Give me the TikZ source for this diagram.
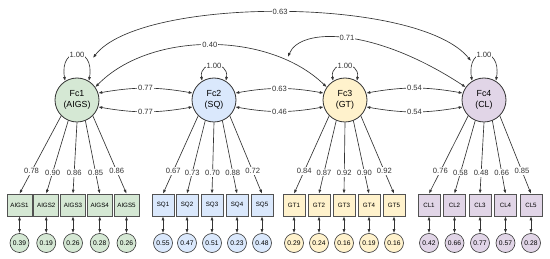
\documentclass[tikz,border=0pt]{standalone}
\usepackage{fontspec}
\setmainfont{Liberation Sans}
\usepackage{xcolor}
\usepackage{tikz}
\usetikzlibrary{arrows.meta}

\definecolor{lnc}{HTML}{333333}
\definecolor{gfill}{HTML}{D5E8D4}
\definecolor{bfill}{HTML}{DAE8FC}
\definecolor{yfill}{HTML}{FFF2CC}
\definecolor{pfill}{HTML}{E1D5E7}

\begin{document}
\begin{tikzpicture}[
  x=1pt, y=1pt,
  font=\fontsize{7.6}{9}\selectfont,
  fac/.style  = {circle, draw=lnc, line width=0.8pt, minimum size=44pt, inner sep=0pt,
                 align=center, font=\fontsize{8.8}{10.5}\selectfont},
  ind/.style  = {draw=lnc!85, line width=0.6pt, minimum width=22pt, minimum height=22pt,
                 inner sep=0.5pt, font=\fontsize{6.2}{7}\selectfont},
  err/.style  = {circle, draw=lnc, line width=0.6pt, minimum size=19pt, inner sep=0pt,
                 font=\fontsize{6.7}{7}\selectfont},
  lab/.style  = {fill=white, inner sep=1pt},
  arr/.style  = {-{Latex[length=4pt, width=3pt]}, lnc, line width=0.65pt},
  barr/.style = {{Latex[length=4pt, width=3pt]}-{Latex[length=4pt, width=3pt]}, lnc, line width=0.65pt},
]
\useasboundingbox (0,0) rectangle (550,-259);

%% ── Factors ────────────────────────────────────────────────────────────────
\node[fac, fill=gfill] (Fc1) at (77,-100)  {Fc1\\(AIGS)};
\node[fac, fill=bfill] (Fc2) at (214,-100) {Fc2\\(SQ)};
\node[fac, fill=yfill] (Fc3) at (345,-100) {Fc3\\(GT)};
\node[fac, fill=pfill] (Fc4) at (484,-100) {Fc4\\(CL)};

%% ── Variances ──────────────────────────────────────────────────────────────
\draw[barr] (Fc1.122) .. controls +(100:36) and +(80:36) .. (Fc1.58) node[lab, pos=0.5] {1.00};
\draw[barr] (Fc2.122) .. controls +(100:21) and +(80:21) .. (Fc2.58) node[lab, pos=0.5] {1.00};
\draw[barr] (Fc3.122) .. controls +(100:21) and +(80:21) .. (Fc3.58) node[lab, pos=0.5] {1.00};
\draw[barr] (Fc4.122) .. controls +(100:36) and +(80:36) .. (Fc4.58) node[lab, pos=0.5] {1.00};

%% ── Covariances ────────────────────────────────────────────────────────────
\coordinate (c63a) at (93,-58);
\coordinate (c63b) at (471,-61);
\coordinate (c71)  at (288,-57);

\draw[barr] (c63a) .. controls (140,3.8) and (419,3.8) .. (c63b) node[lab, pos=0.5] {0.63};
\draw[barr] (Fc1.35) .. controls (150,-31) and (269,-31) .. (Fc3.145) node[lab, pos=0.5] {0.40};
\draw[barr] (c71) .. controls (300,-27) and (374,-27) .. (Fc4.145) node[lab, pos=0.5] {0.71};

\draw[barr] (Fc1.18)  to[bend left=10]  node[lab] {0.77} (Fc2.162);
\draw[barr] (Fc1.-18) to[bend right=10] node[lab] {0.77} (Fc2.198);
\draw[barr] (Fc2.18)  to[bend left=10]  node[lab] {0.63} (Fc3.162);
\draw[barr] (Fc2.-18) to[bend right=10] node[lab] {0.46} (Fc3.198);
\draw[barr] (Fc3.18)  to[bend left=10]  node[lab] {0.54} (Fc4.162);
\draw[barr] (Fc3.-18) to[bend right=10] node[lab] {0.54} (Fc4.198);

%% ── Indicators ─────────────────────────────────────────────────────────────
\node[ind, fill=gfill, minimum width=25pt] (AIGS1) at (19.5,-205)  {AIGS1};
\node[ind, fill=gfill, minimum width=25pt] (AIGS2) at (46.25,-205) {AIGS2};
\node[ind, fill=gfill, minimum width=25pt] (AIGS3) at (73,-205)    {AIGS3};
\node[ind, fill=gfill, minimum width=25pt] (AIGS4) at (99.75,-205) {AIGS4};
\node[ind, fill=gfill, minimum width=25pt] (AIGS5) at (126.5,-205) {AIGS5};

\node[ind, fill=bfill] (SQ1) at (163,-205) {SQ1};
\node[ind, fill=bfill] (SQ2) at (187,-205) {SQ2};
\node[ind, fill=bfill] (SQ3) at (212,-205) {SQ3};
\node[ind, fill=bfill] (SQ4) at (237,-205) {SQ4};
\node[ind, fill=bfill] (SQ5) at (262,-205) {SQ5};

\node[ind, fill=yfill] (GT1) at (294,-205) {GT1};
\node[ind, fill=yfill] (GT2) at (319,-205) {GT2};
\node[ind, fill=yfill] (GT3) at (344,-205) {GT3};
\node[ind, fill=yfill] (GT4) at (369,-205) {GT4};
\node[ind, fill=yfill] (GT5) at (394,-205) {GT5};

\node[ind, fill=pfill] (CL1) at (429,-205)   {CL1};
\node[ind, fill=pfill] (CL2) at (454.5,-205) {CL2};
\node[ind, fill=pfill] (CL3) at (480,-205)   {CL3};
\node[ind, fill=pfill] (CL4) at (505.5,-205) {CL4};
\node[ind, fill=pfill] (CL5) at (531,-205)   {CL5};

%% ── Loadings ───────────────────────────────────────────────────────────────
\draw[arr] (Fc1.225)   -- (AIGS1.north) node[lab, pos=0.71] {0.78};
\draw[arr] (Fc1.247.5) -- (AIGS2.north) node[lab, pos=0.71] {0.90};
\draw[arr] (Fc1.270)   -- (AIGS3.north) node[lab, pos=0.71] {0.86};
\draw[arr] (Fc1.292.5) -- (AIGS4.north) node[lab, pos=0.71] {0.85};
\draw[arr] (Fc1.315)   -- (AIGS5.north) node[lab, pos=0.71] {0.86};

\draw[arr] (Fc2.225)   -- (SQ1.north) node[lab, pos=0.71] {0.67};
\draw[arr] (Fc2.247.5) -- (SQ2.north) node[lab, pos=0.71] {0.73};
\draw[arr] (Fc2.270)   -- (SQ3.north) node[lab, pos=0.71] {0.70};
\draw[arr] (Fc2.292.5) -- (SQ4.north) node[lab, pos=0.71] {0.88};
\draw[arr] (Fc2.315)   -- (SQ5.north) node[lab, pos=0.71] {0.72};

\draw[arr] (Fc3.225)   -- (GT1.north) node[lab, pos=0.71] {0.84};
\draw[arr] (Fc3.247.5) -- (GT2.north) node[lab, pos=0.71] {0.87};
\draw[arr] (Fc3.270)   -- (GT3.north) node[lab, pos=0.71] {0.92};
\draw[arr] (Fc3.292.5) -- (GT4.north) node[lab, pos=0.71] {0.90};
\draw[arr] (Fc3.315)   -- (GT5.north) node[lab, pos=0.71] {0.92};

\draw[arr] (Fc4.225)   -- (CL1.north) node[lab, pos=0.71] {0.76};
\draw[arr] (Fc4.247.5) -- (CL2.north) node[lab, pos=0.71] {0.58};
\draw[arr] (Fc4.270)   -- (CL3.north) node[lab, pos=0.71] {0.48};
\draw[arr] (Fc4.292.5) -- (CL4.north) node[lab, pos=0.71] {0.66};
\draw[arr] (Fc4.315)   -- (CL5.north) node[lab, pos=0.71] {0.85};

%% ── Residuals ──────────────────────────────────────────────────────────────
\node[err, fill=gfill] (eAIGS1) at (19.5,-243)  {0.39};
\node[err, fill=gfill] (eAIGS2) at (46.25,-243) {0.19};
\node[err, fill=gfill] (eAIGS3) at (73,-243)    {0.26};
\node[err, fill=gfill] (eAIGS4) at (99.75,-243) {0.28};
\node[err, fill=gfill] (eAIGS5) at (126.5,-243) {0.26};

\node[err, fill=bfill] (eSQ1) at (163,-243) {0.55};
\node[err, fill=bfill] (eSQ2) at (187,-243) {0.47};
\node[err, fill=bfill] (eSQ3) at (212,-243) {0.51};
\node[err, fill=bfill] (eSQ4) at (237,-243) {0.23};
\node[err, fill=bfill] (eSQ5) at (262,-243) {0.48};

\node[err, fill=yfill] (eGT1) at (294,-243) {0.29};
\node[err, fill=yfill] (eGT2) at (319,-243) {0.24};
\node[err, fill=yfill] (eGT3) at (344,-243) {0.16};
\node[err, fill=yfill] (eGT4) at (369,-243) {0.19};
\node[err, fill=yfill] (eGT5) at (394,-243) {0.16};

\node[err, fill=pfill] (eCL1) at (429,-243)   {0.42};
\node[err, fill=pfill] (eCL2) at (454.5,-243) {0.66};
\node[err, fill=pfill] (eCL3) at (480,-243)   {0.77};
\node[err, fill=pfill] (eCL4) at (505.5,-243) {0.57};
\node[err, fill=pfill] (eCL5) at (531,-243)   {0.28};

\draw[barr] (AIGS1) -- (eAIGS1);
\draw[barr] (AIGS2) -- (eAIGS2);
\draw[barr] (AIGS3) -- (eAIGS3);
\draw[barr] (AIGS4) -- (eAIGS4);
\draw[barr] (AIGS5) -- (eAIGS5);
\draw[barr] (SQ1) -- (eSQ1);
\draw[barr] (SQ2) -- (eSQ2);
\draw[barr] (SQ3) -- (eSQ3);
\draw[barr] (SQ4) -- (eSQ4);
\draw[barr] (SQ5) -- (eSQ5);
\draw[barr] (GT1) -- (eGT1);
\draw[barr] (GT2) -- (eGT2);
\draw[barr] (GT3) -- (eGT3);
\draw[barr] (GT4) -- (eGT4);
\draw[barr] (GT5) -- (eGT5);
\draw[barr] (CL1) -- (eCL1);
\draw[barr] (CL2) -- (eCL2);
\draw[barr] (CL3) -- (eCL3);
\draw[barr] (CL4) -- (eCL4);
\draw[barr] (CL5) -- (eCL5);

\end{tikzpicture}
\end{document}
